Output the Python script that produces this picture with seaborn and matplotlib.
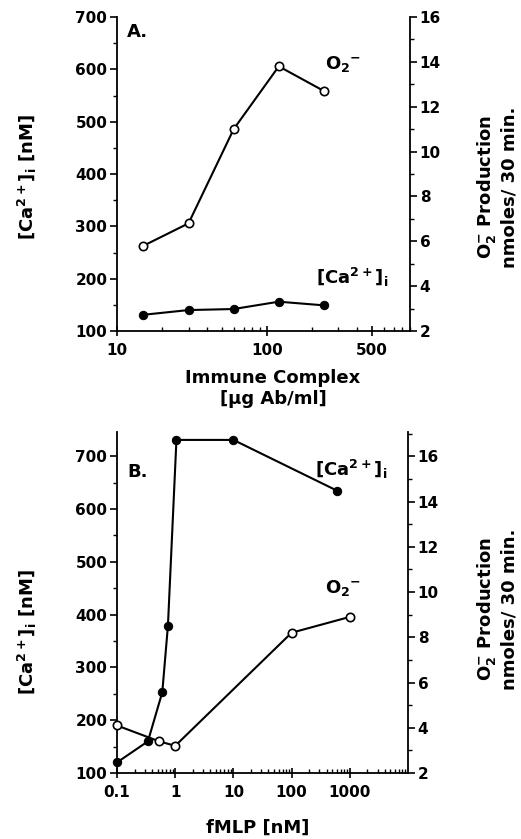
import numpy as np
import pandas as pd
import matplotlib
matplotlib.use("Agg")
import matplotlib.pyplot as plt
from matplotlib.ticker import MultipleLocator, LogLocator, NullFormatter, FixedLocator, FixedFormatter
import seaborn as sns

sns.set_style("ticks")
plt.rcParams['font.family'] = ['DejaVu Sans']
plt.rcParams['font.weight'] = 'bold'
plt.rcParams['mathtext.default'] = 'bf'
for k in ['text.color', 'axes.labelcolor', 'xtick.color', 'ytick.color', 'axes.edgecolor']:
    plt.rcParams[k] = 'black'

# Panel A: immune complex (µg Ab/ml)
a_dose = [15, 30, 60, 120, 240]
a_ca = [131, 140, 142, 156, 149]          # [Ca2+]i nM (left axis)
a_o2 = [5.8, 6.8, 11.0, 13.8, 12.7]       # O2- nmoles/30 min (right axis)

# Panel B: fMLP (nM)
b_ca_dose = [0.1, 0.34, 0.6, 0.75, 1.05, 10, 600]
b_ca = [120, 160, 253, 379, 731, 731, 635]
b_o2_dose = [0.1, 0.53, 1.0, 100, 1000]
b_o2 = [4.1, 3.4, 3.2, 8.2, 8.9]

left_ticks = [100, 200, 300, 400, 500, 600, 700]
right_ticks = [2, 4, 6, 8, 10, 12, 14, 16]

W, H = 521, 839
fig = plt.figure(figsize=(W / 100, H / 100), dpi=100)

lw = 1.5
ms = 6
tickfont = 11
labfont = 13
txtfont = 13

def style_axes(ax, ax2, xlim, xticks, xticklabels, ylim_l, ylim_r):
    ax.set_xscale('log')
    ax.set_xlim(*xlim)
    ax.set_ylim(*ylim_l)
    ax2.set_ylim(*ylim_r)
    ax.xaxis.set_major_locator(FixedLocator(xticks))
    ax.xaxis.set_major_formatter(FixedFormatter(xticklabels))
    ax.xaxis.set_minor_locator(LogLocator(base=10, subs=np.arange(2, 10)))
    ax.xaxis.set_minor_formatter(NullFormatter())
    ax.set_yticks(left_ticks)
    ax.yaxis.set_minor_locator(MultipleLocator(50))
    ax2.set_yticks(right_ticks)
    ax2.yaxis.set_minor_locator(MultipleLocator(1))
    for a in (ax, ax2):
        a.spines['top'].set_visible(False)
        for s in a.spines.values():
            s.set_linewidth(1.3)
            s.set_color('black')
        a.set_xlabel('')
        a.set_ylabel('')
        a.grid(False)
    ax.spines['right'].set_visible(False)
    ax2.spines['left'].set_visible(False)
    ax2.spines['bottom'].set_visible(False)
    ax.tick_params(axis='x', which='major', direction='inout', length=7, width=1.2,
                   labelsize=tickfont, pad=5, colors='black')
    ax.tick_params(axis='x', which='minor', direction='in', length=3, width=1, colors='black')
    ax.tick_params(axis='y', which='major', direction='out', length=5, width=1.2,
                   labelsize=tickfont, pad=2, colors='black')
    ax.tick_params(axis='y', which='minor', direction='out', length=3, width=1, colors='black')
    ax2.tick_params(axis='y', which='major', direction='out', length=5, width=1.2,
                    labelsize=tickfont, pad=2, colors='black')
    ax2.tick_params(axis='y', which='minor', direction='out', length=3, width=1, colors='black')
    for lab in ax.get_xticklabels() + ax.get_yticklabels() + ax2.get_yticklabels():
        lab.set_fontweight('bold')

def draw(ax, ax2, ca_x, ca_y, o2_x, o2_y):
    sns.lineplot(x=ca_x, y=ca_y, ax=ax, color='black', linewidth=lw, marker='o',
                 markersize=ms, markerfacecolor='black', markeredgecolor='black',
                 sort=False, legend=False, zorder=3, clip_on=False)
    sns.lineplot(x=o2_x, y=o2_y, ax=ax2, color='black', linewidth=lw, marker='o',
                 markersize=ms, markerfacecolor='white', markeredgecolor='black',
                 markeredgewidth=1.2, sort=False, legend=False, zorder=3, clip_on=False)

ca_txt = r'[Ca$^{2+}$]$_\mathrm{i}$'
o2_txt = r'O$_2$$^{\mathbf{-}}$'

# ---- Panel A ----
axA = fig.add_axes([117 / W, 1 - 331 / H, 293 / W, 314 / H])
axA2 = axA.twinx()
draw(axA, axA2, a_dose, a_ca, a_dose, a_o2)
style_axes(axA, axA2, (10, 900), [10, 100, 500], ['10', '100', '500'], (100, 700), (2, 16))
axA.text(0.035, 0.952, 'A.', transform=axA.transAxes, fontsize=txtfont, fontweight='bold', va='center')
axA.text(0.71, 0.85, o2_txt, transform=axA.transAxes, fontsize=txtfont, fontweight='bold', va='center')
axA.text(0.68, 0.172, ca_txt, transform=axA.transAxes, fontsize=txtfont, fontweight='bold', va='center')

# ---- Panel B ----
axB = fig.add_axes([117 / W, 1 - 773 / H, 291 / W, 341 / H])
axB2 = axB.twinx()
draw(axB, axB2, b_ca_dose, b_ca, b_o2_dose, b_o2)
top_l = 746
style_axes(axB, axB2, (0.1, 10000), [0.1, 1, 10, 100, 1000], ['0.1', '1', '10', '100', '1000'],
           (100, top_l), (2, 2 + (top_l - 100) * 14 / 600))
axB.text(0.035, 0.883, 'B.', transform=axB.transAxes, fontsize=txtfont, fontweight='bold', va='center')
axB.text(0.68, 0.889, ca_txt, transform=axB.transAxes, fontsize=txtfont, fontweight='bold', va='center')
axB.text(0.715, 0.543, o2_txt, transform=axB.transAxes, fontsize=txtfont, fontweight='bold', va='center')

# axis labels
ylab_left = r'[Ca$^{2+}$]$_\mathrm{i}$ [nM]'
for yc in (177, 632):
    fig.text(27 / W, 1 - yc / H, ylab_left, rotation=90, ha='center', va='center',
             fontsize=labfont, fontweight='bold')
for yc in (187, 609):
    fig.text(486 / W, 1 - yc / H, r'O$_2^{\mathbf{-}}$ Production', rotation=90, ha='center',
             va='center', fontsize=labfont, fontweight='bold')
    fig.text(509 / W, 1 - yc / H, 'nmoles/ 30 min.', rotation=90, ha='center',
             va='center', fontsize=labfont, fontweight='bold')
fig.text(273 / W, 1 - 378 / H, 'Immune Complex', ha='center', va='center',
         fontsize=labfont, fontweight='bold')
fig.text(273 / W, 1 - 399 / H, '[µg Ab/ml]', ha='center', va='center',
         fontsize=labfont, fontweight='bold')
fig.text(258 / W, 1 - 828 / H, 'fMLP [nM]', ha='center', va='center',
         fontsize=labfont, fontweight='bold')

fig.savefig('out.png', dpi=100)
